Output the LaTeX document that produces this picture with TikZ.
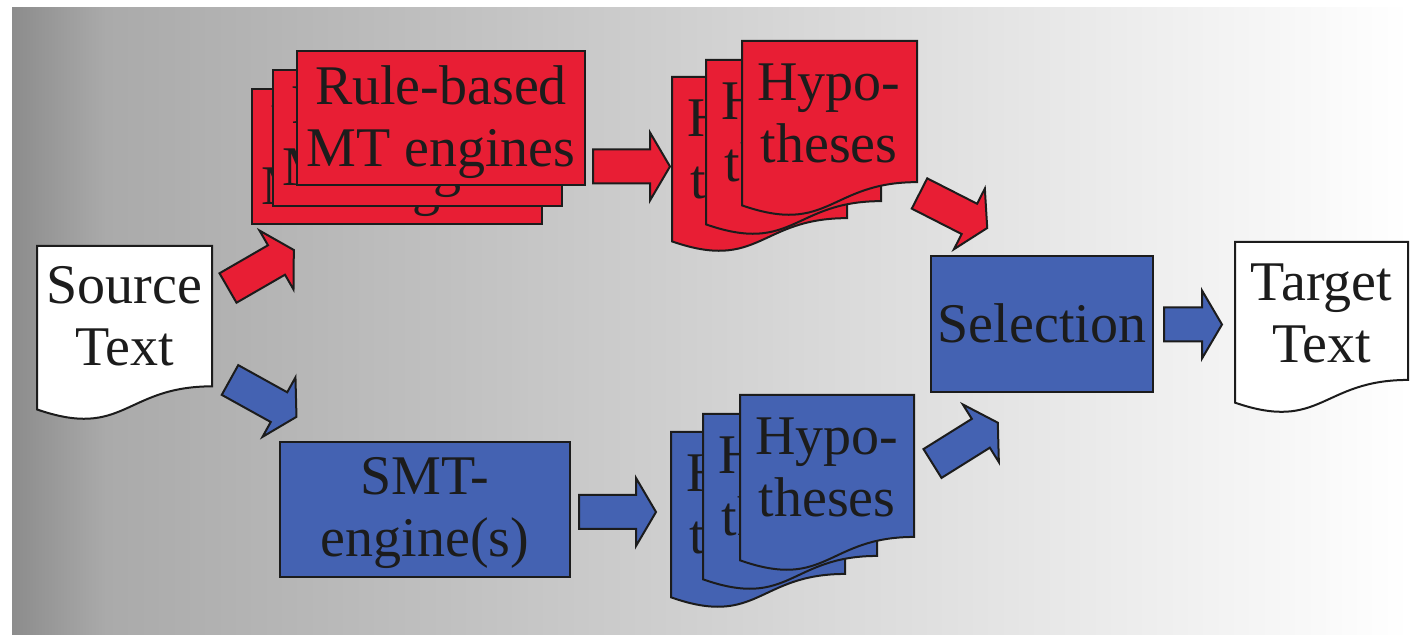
\documentclass[tikz,border=0pt]{standalone}
\usepackage{fontspec}
\setmainfont{Liberation Serif}
\begin{document}
\definecolor{rrd}{RGB}{232,30,52}
\definecolor{bbl}{RGB}{68,98,178}
\definecolor{ink}{RGB}{28,28,28}
\definecolor{bgA}{RGB}{140,140,140}
\definecolor{bgB}{RGB}{170,170,170}
\newcommand\docshape[5]{%
  \path[#5] (#1,#2) -- ({#1+#3},#2) -- ({#1+#3},{#2+0.802*#4})
    .. controls ({#1+0.5*#3},{#2+0.802*#4}) and ({#1+0.5*#3},{#2+1.1075*#4}) ..
    (#1,{#2+0.934*#4}) -- cycle;}
\begin{tikzpicture}[x=0.5pt,y=-0.5pt,
  lbl/.style={font=\fontsize{28}{31}\selectfont, text=ink, align=center, inner sep=0pt, anchor=base},
  redbox/.style={fill=rrd, draw=ink, line width=1pt},
  bluebox/.style={fill=bbl, draw=ink, line width=1pt},
  whitebox/.style={fill=white, draw=ink, line width=1pt},
  pics/barrow/.style={code={\path[pic actions] (0,-17) -- ({#1-20},-17) -- ({#1-20},-34) -- (#1,0) -- ({#1-20},34) -- ({#1-20},17) -- (0,17) -- cycle;}}]
\useasboundingbox (0,0) rectangle (1410,635);
% background
\shade[left color=bgA, right color=bgB] (12,8) rectangle (106,635);
\shade[left color=bgB, right color=white] (105,8) rectangle (1410,635);

% source / target documents
\docshape{37}{246}{175}{175}{whitebox}
\node[lbl] (src) at (124.5,366) {Source\\Text};
\docshape{1235}{242}{173}{172}{whitebox}
\node[lbl] (tgt) at (1321.5,363) {Target\\Text};

% rule-based stack
\path[redbox] (252,89) rectangle ++(290,135);
\node[lbl] (rb3) at (396,205) {Rule-based\\MT engines};
\path[redbox] (273,70) rectangle ++(289,136);
\node[lbl] (rb2) at (417,186) {Rule-based\\MT engines};
\path[redbox] (297,51) rectangle ++(288,134);
\node[lbl] (rb1) at (441,167) {Rule-based\\MT engines};

% SMT engine
\path[bluebox] (280,442) rectangle (570,577);
\node[lbl] (smt) at (425,557) {SMT-\\engine(s)};

% red hypotheses stack
\docshape{672}{77}{175}{176}{redbox}
\node[lbl] (rh3) at (759,199) {Hypo-\\theses};
\docshape{706}{60}{175}{176}{redbox}
\node[lbl] (rh2) at (793,182) {Hypo-\\theses};
\docshape{742}{41}{175}{176}{redbox}
\node[lbl] (rh1) at (829,163) {Hypo-\\theses};

% blue hypotheses stack
\docshape{671}{432}{174}{177}{bluebox}
\node[lbl] (bh3) at (758,554) {Hypo-\\theses};
\docshape{703}{414}{174}{177}{bluebox}
\node[lbl] (bh2) at (790,536) {Hypo-\\theses};
\docshape{740}{395}{174}{177}{bluebox}
\node[lbl] (bh1) at (827,517) {Hypo-\\theses};

% selection
\path[bluebox] (931,256) rectangle (1153,392);
\node[lbl] (sel) at (1042,343) {Selection};

% block arrows
\pic[redbox, rotate=30] at (228,288) {barrow=76};
\pic[bluebox, rotate=-29] at (230,380) {barrow=76};
\pic[redbox] at (593,166.5) {barrow=77};
\pic[bluebox] at (579,512) {barrow=77};
\pic[redbox, rotate=-27] at (919.5,193.5) {barrow=76};
\pic[bluebox, rotate=32] at (932.5,463.5) {barrow=77};
\pic[bluebox] at (1164,324.5) {barrow=58};
\end{tikzpicture}
\end{document}
